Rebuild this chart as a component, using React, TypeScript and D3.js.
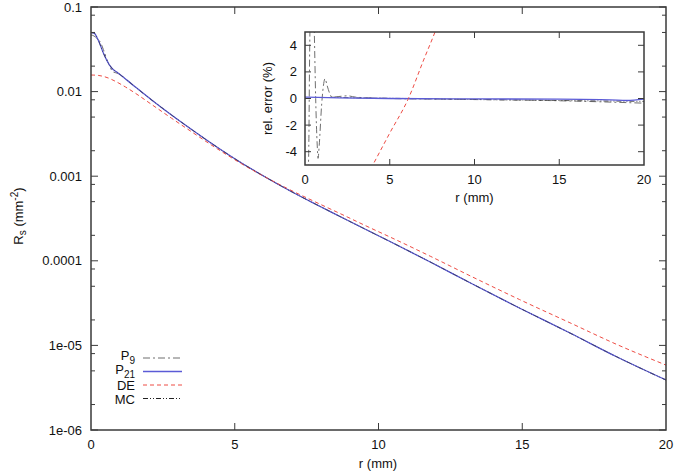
import * as d3 from 'd3';

// main curves (r in mm, R_s in mm^-2)
const rGrid = [0, 0.1, 0.25, 0.43, 0.6, 0.72, 0.94, 1.2, 1.53, 2.11, 2.8, 3.5, 4.3, 5.18, 6.0, 6.9, 7.8, 8.66, 9.7, 10.4, 11.8, 13.2, 14.9, 16.66, 18.3, 20];
const p21Vals = [0.04968, 0.04929, 0.04074, 0.0286, 0.02178, 0.01901, 0.0166, 0.01409, 0.01143, 0.00796, 0.005289, 0.003565, 0.002306, 0.001472, 0.001006, 0.0006776, 0.0004693, 0.0003339, 0.000222, 0.000169, 9.68e-5, 5.47e-5, 2.77e-5, 1.4e-5, 7.29e-6, 3.9e-6];
const mcVals = [0.0498, 0.0494, 0.0408, 0.0286, 0.02178, 0.01901, 0.0166, 0.01409, 0.01143, 0.00796, 0.005289, 0.003565, 0.002306, 0.001472, 0.001006, 0.0006776, 0.0004693, 0.0003339, 0.000222, 0.000169, 9.68e-5, 5.47e-5, 2.77e-5, 1.4e-5, 7.29e-6, 3.9e-6];
const deVals = [0.01571, 0.01567, 0.01554, 0.01513, 0.01448, 0.0139, 0.01274, 0.01133, 0.009627, 0.00704, 0.004849, 0.003348, 0.002208, 0.00144, 0.001003, 0.0006963, 0.0004969, 0.0003623, 0.0002462, 0.0001911, 0.0001133, 6.61e-5, 3.49e-5, 1.85e-5, 1.022e-5, 5.85e-6];
const p9R = [0, 0.1, 0.2, 0.25, 0.3, 0.43, 0.6, 0.77, 0.94, 1.2, 1.53, 2.11, 2.8, 3.5, 4.3, 5.18, 6.0, 6.9, 7.8, 8.66, 9.7, 10.4, 11.8, 13.2, 14.9, 16.66, 18.3, 20];
const p9Vals = [0.0467, 0.0455, 0.0427, 0.0407, 0.0396, 0.0315, 0.0218, 0.0171, 0.0164, 0.0142, 0.0114, 0.00797, 0.005291, 0.003566, 0.002306, 0.001472, 0.001006, 0.0006775, 0.0004692, 0.0003338, 0.000222, 0.000169, 9.68e-5, 5.47e-5, 2.77e-5, 1.4e-5, 7.28e-6, 3.89e-6];

// inset: relative error (%)
const p9ErrR = [0, 0.1, 0.18, 0.23, 0.27, 0.32, 0.42, 0.5, 0.55, 0.63, 0.72, 0.77, 0.84, 0.98, 1.08, 1.18, 1.3, 1.45, 1.6, 2.0, 2.5, 3, 5, 8, 12, 16, 20];
const p9Err = [-6, -8, -6, -3, 3, 7, 12, 8, 5, 0, -3.5, -4.5, -3.5, -0.5, 0.9, 1.49, 1.0, 0.4, 0.1, 0.15, 0.2, 0.1, 0, -0.05, -0.1, -0.2, -0.35];
const p21ErrR = [0, 2, 5, 10, 15, 18, 19, 20];
const p21Err = [0.1, 0.05, 0, -0.03, -0.05, -0.1, -0.15, -0.05];
const mcErrR = [1.5, 3, 6, 10, 15, 20];
const mcErr = [0.1, 0.05, 0, -0.08, -0.15, -0.22];
const deErrR = [3.5, 4.0, 5.0, 6.1, 7.0, 7.67, 8.5];
const deErr = [-6.2, -5, -2.6, 0, 2.9, 5, 8];

const xTicks = [0, 5, 10, 15, 20];
const yTicks = [1e-6, 1e-5, 1e-4, 1e-3, 1e-2, 1e-1];
const yTickLabels = ['1e-06', '1e-05', '0.0001', '0.001', '0.01', '0.1'];
const yMinorMult = [2, 5, 8];
const insetYTicks = [-4, -2, 0, 2, 4];

const FONT = 'Liberation Sans, Arial, Helvetica, sans-serif';
const BLUE = '#5b5bd6';
const RED = '#ee4c44';
const GREY = '#6f6f6f';
const FRAME = '#3a3a3a';

export default function App() {
  const x = d3.scaleLinear().domain([0, 20]).range([91, 666]);
  const y = d3.scaleLog().domain([1e-6, 0.1]).range([430, 7]);
  const xi = d3.scaleLinear().domain([0, 20]).range([305, 644]);
  const yi = d3.scaleLinear().domain([-5, 5]).range([165, 32]);

  const mainLine = (rs: number[], vs: number[]) =>
    d3.line<number>().x((_, i) => x(rs[i])).y(d => y(d)).curve(d3.curveMonotoneX)(vs) || '';
  const insetLine = (rs: number[], vs: number[]) =>
    d3.line<number>().x((_, i) => xi(rs[i])).y(d => yi(d)).curve(d3.curveMonotoneX)(vs) || '';

  const minor: number[] = [];
  yTicks.slice(0, -1).forEach(t => yMinorMult.forEach(m => minor.push(t * m)));

  const [x0, x1] = x.range();
  const [yb, yt] = y.range();
  const [ix0, ix1] = xi.range();
  const [iyb, iyt] = yi.range();

  const legend = [
    { name: 'P', sub: '9', color: GREY, dash: '7,3,2,3', w: 1 },
    { name: 'P', sub: '21', color: BLUE, dash: null, w: 1.3 },
    { name: 'DE', sub: '', color: RED, dash: '4,3', w: 1 },
    { name: 'MC', sub: '', color: '#222', dash: '5,2,1,2,1,2', w: 1 },
  ];

  return (
    <svg width={675} height={472} style={{ position: 'absolute', left: 0, top: 0, background: '#fff' }} fontFamily={FONT}>
      <defs>
        <clipPath id="mainClip"><rect x={x0} y={yt} width={x1 - x0} height={yb - yt} /></clipPath>
        <clipPath id="insetClip"><rect x={ix0} y={iyt} width={ix1 - ix0} height={iyb - iyt} /></clipPath>
      </defs>

      {/* main curves */}
      <g clipPath="url(#mainClip)" fill="none">
        <path d={mainLine(p9R, p9Vals)} stroke={GREY} strokeWidth={1} strokeDasharray="7,3,2,3" />
        <path d={mainLine(rGrid, p21Vals)} stroke={BLUE} strokeWidth={1.3} />
        <path d={mainLine(rGrid, deVals)} stroke={RED} strokeWidth={1} strokeDasharray="4,3" />
        <path d={mainLine(rGrid, mcVals)} stroke="#222" strokeWidth={0.8} strokeDasharray="5,2,1,2,1,2" opacity={0.7} />
      </g>

      {/* main frame and ticks */}
      <rect x={x0} y={yt} width={x1 - x0} height={yb - yt} fill="none" stroke={FRAME} strokeWidth={1.5} />
      <g stroke={FRAME} strokeWidth={1}>
        {xTicks.slice(1, -1).map(t => (
          <g key={'xt' + t}>
            <line x1={x(t)} x2={x(t)} y1={yb} y2={yb - 7} />
            <line x1={x(t)} x2={x(t)} y1={yt} y2={yt + 7} />
          </g>
        ))}
        {yTicks.map(t => (
          <g key={'yt' + t}>
            <line x1={x0} x2={x0 + 7} y1={y(t)} y2={y(t)} />
            <line x1={x1} x2={x1 - 7} y1={y(t)} y2={y(t)} />
          </g>
        ))}
        {minor.map(t => (
          <g key={'ym' + t}>
            <line x1={x0} x2={x0 + 4} y1={y(t)} y2={y(t)} />
            <line x1={x1} x2={x1 - 4} y1={y(t)} y2={y(t)} />
          </g>
        ))}
      </g>
      <g fontSize={13} fill="#111">
        {xTicks.map(t => (
          <text key={'xl' + t} x={x(t)} y={449} textAnchor="middle">{t}</text>
        ))}
        {yTicks.map((t, i) => (
          <text key={'yl' + t} x={82} y={y(t) + 4.5} textAnchor="end">{yTickLabels[i]}</text>
        ))}
        <text x={378} y={468} textAnchor="middle">r (mm)</text>
        <text transform="translate(23,216) rotate(-90)" textAnchor="middle">
          R<tspan fontSize={10} dy={3}>s</tspan><tspan dy={-3}> (mm</tspan>
          <tspan fontSize={10} dy={-5}>-2</tspan><tspan dy={5}>)</tspan>
        </text>
      </g>

      {/* legend */}
      <g fontSize={13} fill="#111">
        {legend.map((l, i) => {
          const ly = 358 + i * 13.5;
          return (
            <g key={'lg' + i}>
              {l.sub ? (
                <text x={135} y={ly + 2} textAnchor="end">
                  {l.name}<tspan fontSize={10} dy={4}>{l.sub}</tspan>
                </text>
              ) : (
                <text x={135} y={ly + 5} textAnchor="end">{l.name}</text>
              )}
              <line x1={143} x2={182} y1={ly} y2={ly} stroke={l.color} strokeWidth={l.w}
                strokeDasharray={l.dash || undefined} />
            </g>
          );
        })}
      </g>

      {/* inset */}
      <rect x={ix0} y={iyt} width={ix1 - ix0} height={iyb - iyt} fill="#fff" />
      <g clipPath="url(#insetClip)" fill="none">
        <path d={insetLine(p9ErrR, p9Err)} stroke={GREY} strokeWidth={1} strokeDasharray="7,3,2,3" />
        <path d={insetLine(mcErrR, mcErr)} stroke="#333" strokeWidth={0.8} strokeDasharray="5,2,1,2,1,2" />
        <path d={insetLine(p21ErrR, p21Err)} stroke={BLUE} strokeWidth={1.3} />
        <path d={insetLine(deErrR, deErr)} stroke={RED} strokeWidth={1} strokeDasharray="4,3" />
      </g>
      <rect x={ix0} y={iyt} width={ix1 - ix0} height={iyb - iyt} fill="none" stroke={FRAME} strokeWidth={1.5} />
      <g stroke={FRAME} strokeWidth={1}>
        {xTicks.slice(1, -1).map(t => (
          <g key={'ixt' + t}>
            <line x1={xi(t)} x2={xi(t)} y1={iyb} y2={iyb - 6} />
            <line x1={xi(t)} x2={xi(t)} y1={iyt} y2={iyt + 6} />
          </g>
        ))}
        {insetYTicks.map(t => (
          <g key={'iyt' + t}>
            <line x1={ix0} x2={ix0 + 6} y1={yi(t)} y2={yi(t)} />
            <line x1={ix1} x2={ix1 - 6} y1={yi(t)} y2={yi(t)} />
          </g>
        ))}
      </g>
      <g fontSize={13} fill="#111">
        {xTicks.map(t => (
          <text key={'ixl' + t} x={xi(t)} y={184} textAnchor="middle">{t}</text>
        ))}
        {insetYTicks.map(t => (
          <text key={'iyl' + t} x={297} y={yi(t) + 4.5} textAnchor="end">{t}</text>
        ))}
        <text x={xi(10)} y={202} textAnchor="middle">r (mm)</text>
        <text transform={`translate(272,${(iyt + iyb) / 2}) rotate(-90)`} textAnchor="middle">rel. error (%)</text>
      </g>
    </svg>
  );
}
